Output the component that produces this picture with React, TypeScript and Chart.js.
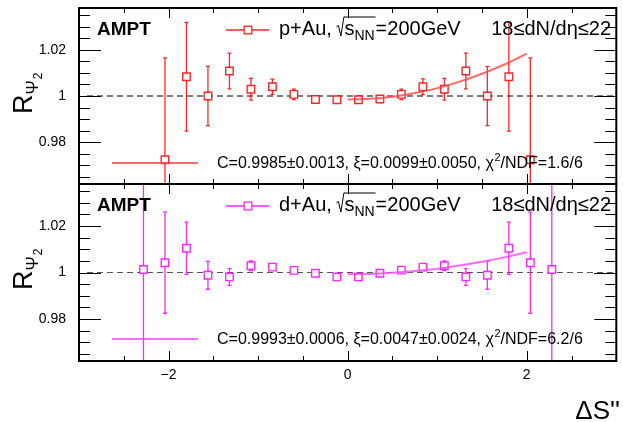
import React, { useEffect, useRef } from 'react';
import { Chart, registerables } from 'chart.js';

Chart.register(...registerables);

// ---------- data ----------
const pAuX = [-2.04, -1.8, -1.56, -1.32, -1.08, -0.84, -0.6, -0.36, -0.12, 0.12, 0.36, 0.6, 0.84, 1.08, 1.32, 1.56, 1.8, 2.04];
const pAuValues = [0.9725, 1.0083, 1.0, 1.0108, 1.0029, 1.004, 1.0007, 0.9985, 0.9984, 0.9984, 0.9987, 1.0007, 1.004, 1.0029, 1.0108, 1.0, 1.0083, 0.9725];
const pAuErrors = [0.044, 0.0235, 0.0128, 0.0077, 0.0047, 0.0033, 0.0023, 0.001, 0.0008, 0.0008, 0.001, 0.0023, 0.0034, 0.0047, 0.0077, 0.0128, 0.0235, 0.044];

const dAuX = [-2.28, -2.04, -1.8, -1.56, -1.32, -1.08, -0.84, -0.6, -0.36, -0.12, 0.12, 0.36, 0.6, 0.84, 1.08, 1.32, 1.56, 1.8, 2.04, 2.28];
const dAuValues = [1.0013, 1.0042, 1.0104, 0.9988, 0.9981, 1.0029, 1.0023, 1.0009, 0.9997, 0.9981, 0.9981, 0.9997, 1.001, 1.0023, 1.0029, 0.9981, 0.9988, 1.0104, 1.0042, 1.0013];
const dAuErrors = [0.08, 0.0217, 0.0112, 0.006, 0.0036, 0.0021, 0.001, 0.001, 0.0008, 0.0008, 0.0008, 0.0008, 0.001, 0.001, 0.0021, 0.0036, 0.006, 0.0112, 0.0217, 0.08];

const fitX = [0, 0.25, 0.5, 0.75, 1.0, 1.25, 1.5, 1.75, 2.0];
const fitPAu = [0.9985, 0.9988, 0.9997, 1.0013, 1.0034, 1.0062, 1.0096, 1.0136, 1.0183];
const fitDAu = [0.9993, 0.9994, 0.9999, 1.0006, 1.0016, 1.003, 1.0046, 1.0065, 1.0087];

const yTickValues = [0.98, 1.0, 1.02];
const yTickLabels = ['0.98', '1', '1.02'];
const xTickValues = [-2, 0, 2];
const xTickLabels = ['\u22122', '0', '2'];

const X_MIN = -3;
const X_MAX = 3;
const Y_MIN = 0.962;
const Y_MAX = 1.038;

const FONT = '"Liberation Sans", Arial, Helvetica, sans-serif';

type PanelCfg = {
  key: string;
  xs: number[];
  vals: number[];
  errs: number[];
  fit: number[];
  color: string;
  fitColor: string;
  dashColor: string;
  system: string;
  fitText1: string;
  fitText2: string;
  showXLabels: boolean;
};

function makePlugin(cfg: PanelCfg) {
  return {
    id: 'rootPanel' + cfg.key,
    beforeDatasetsDraw(chart: any) {
      const { ctx, chartArea: a, scales } = chart;
      const x = scales.x;
      const y = scales.y;
      ctx.save();
      ctx.beginPath();
      ctx.rect(a.left, a.top, a.right - a.left, a.bottom - a.top);
      ctx.clip();
      // dashed reference line at 1
      const y1 = y.getPixelForValue(1);
      ctx.strokeStyle = cfg.dashColor;
      ctx.lineWidth = 1.2;
      ctx.setLineDash([6, 4]);
      ctx.beginPath();
      ctx.moveTo(a.left + 8, y1);
      ctx.lineTo(a.right, y1);
      ctx.stroke();
      ctx.setLineDash([]);
      // error bars
      ctx.strokeStyle = cfg.color;
      ctx.lineWidth = 1.3;
      const half = 3.8;
      for (let i = 0; i < cfg.xs.length; i++) {
        const px = x.getPixelForValue(cfg.xs[i]);
        const pc = y.getPixelForValue(cfg.vals[i]);
        const pt = y.getPixelForValue(cfg.vals[i] + cfg.errs[i]);
        const pb = y.getPixelForValue(cfg.vals[i] - cfg.errs[i]);
        ctx.beginPath();
        if (pc - pt > half) {
          ctx.moveTo(px, pc - half);
          ctx.lineTo(px, pt);
          ctx.moveTo(px - 2, pt);
          ctx.lineTo(px + 2, pt);
        }
        if (pb - pc > half) {
          ctx.moveTo(px, pc + half);
          ctx.lineTo(px, pb);
          ctx.moveTo(px - 2, pb);
          ctx.lineTo(px + 2, pb);
        }
        ctx.stroke();
      }
      ctx.restore();
    },
    afterDraw(chart: any) {
      const { ctx, chartArea: a, scales } = chart;
      const x = scales.x;
      const y = scales.y;
      ctx.save();
      // frame
      ctx.strokeStyle = '#000';
      ctx.lineWidth = 2;
      ctx.strokeRect(a.left, a.top, a.right - a.left, a.bottom - a.top);
      // y ticks (inside, both sides)
      ctx.lineWidth = 1;
      for (let k = -7; k <= 7; k++) {
        const v = 1 + k * 0.005;
        const py = Math.round(y.getPixelForValue(v)) + 0.5;
        const len = k % 4 === 0 ? 22 : 11;
        ctx.beginPath();
        ctx.moveTo(a.left, py);
        ctx.lineTo(a.left + len, py);
        ctx.moveTo(a.right, py);
        ctx.lineTo(a.right - len, py);
        ctx.stroke();
      }
      // x ticks (inside, top and bottom)
      for (let k = -5; k <= 5; k++) {
        const v = k * 0.5;
        const px = Math.round(x.getPixelForValue(v)) + 0.5;
        const len = k % 4 === 0 ? 10 : 5;
        ctx.beginPath();
        ctx.moveTo(px, a.bottom);
        ctx.lineTo(px, a.bottom - len);
        ctx.moveTo(px, a.top);
        ctx.lineTo(px, a.top + len);
        ctx.stroke();
      }
      // y tick labels
      ctx.fillStyle = '#000';
      ctx.font = `14px ${FONT}`;
      ctx.textAlign = 'right';
      ctx.textBaseline = 'middle';
      yTickValues.forEach((v, i) => {
        ctx.fillText(yTickLabels[i], a.left - 13, y.getPixelForValue(v));
      });
      // x tick labels
      if (cfg.showXLabels) {
        ctx.textAlign = 'center';
        ctx.textBaseline = 'alphabetic';
        xTickValues.forEach((v, i) => {
          ctx.fillText(xTickLabels[i], x.getPixelForValue(v), a.bottom + 18);
        });
        ctx.font = `26px ${FONT}`;
        ctx.textAlign = 'right';
        ctx.fillText("\u0394S''", 620, a.bottom + 58);
      }
      // y title R_{Psi_2}
      ctx.save();
      ctx.translate(32, a.top + 106);
      ctx.rotate(-Math.PI / 2);
      ctx.textAlign = 'left';
      ctx.textBaseline = 'alphabetic';
      ctx.font = `27px ${FONT}`;
      ctx.fillText('R', 0, 0);
      let tx = ctx.measureText('R').width;
      ctx.font = `17px ${FONT}`;
      ctx.fillText('\u03A8', tx, 6);
      tx += ctx.measureText('\u03A8').width;
      ctx.font = `12px ${FONT}`;
      ctx.fillText('2', tx + 1, 10);
      ctx.restore();

      // AMPT
      const by = a.top + 27;
      ctx.textAlign = 'left';
      ctx.textBaseline = 'alphabetic';
      ctx.font = `bold 19px ${FONT}`;
      ctx.fillText('AMPT', 97, by);

      // legend marker
      const ly = a.top + 22;
      ctx.strokeStyle = cfg.color;
      ctx.lineWidth = 1.3;
      ctx.beginPath();
      ctx.moveTo(226, ly);
      ctx.lineTo(244, ly);
      ctx.moveTo(252, ly);
      ctx.lineTo(269, ly);
      ctx.stroke();
      ctx.fillStyle = '#fff';
      ctx.fillRect(244.2, ly - 3.8, 7.6, 7.6);
      ctx.strokeRect(244.2, ly - 3.8, 7.6, 7.6);

      // legend text with sqrt(s_NN)
      ctx.fillStyle = '#000';
      ctx.strokeStyle = '#000';
      ctx.font = `20px ${FONT}`;
      let cx = 279;
      const t1 = cfg.system + ', ';
      ctx.fillText(t1, cx, by);
      cx += ctx.measureText(t1).width - 1;
      // sqrt sign
      ctx.lineWidth = 1;
      ctx.beginPath();
      ctx.moveTo(cx, by - 8);
      ctx.lineTo(cx + 2, by - 9.5);
      ctx.lineTo(cx + 4.5, by + 1);
      ctx.lineTo(cx + 7.5, by - 18);
      cx += 8;
      ctx.font = `20px ${FONT}`;
      ctx.fillText('s', cx, by);
      cx += ctx.measureText('s').width;
      ctx.font = `14px ${FONT}`;
      ctx.fillText('NN', cx, by + 5);
      cx += ctx.measureText('NN').width;
      ctx.lineTo(cx + 1, by - 18);
      ctx.stroke();
      ctx.font = `20px ${FONT}`;
      ctx.fillText('=200GeV', cx + 1, by);
      ctx.textAlign = 'right';
      ctx.fillText('18\u2264dN/d\u03B7\u226422', 611, by);

      // fit legend
      const fy = a.top + 155;
      ctx.strokeStyle = cfg.fitColor;
      ctx.lineWidth = 2;
      ctx.beginPath();
      ctx.moveTo(112, fy);
      ctx.lineTo(198, fy);
      ctx.stroke();
      ctx.textAlign = 'left';
      ctx.fillStyle = '#000';
      ctx.font = `16px ${FONT}`;
      let fx = 217;
      const fb = a.top + 160;
      ctx.fillText(cfg.fitText1, fx, fb);
      fx += ctx.measureText(cfg.fitText1).width;
      ctx.font = `11px ${FONT}`;
      ctx.fillText('2', fx + 0.5, fb - 7);
      fx += ctx.measureText('2').width + 0.5;
      ctx.font = `16px ${FONT}`;
      ctx.fillText(cfg.fitText2, fx, fb);
      ctx.restore();
    },
  };
}

function makeConfig(cfg: PanelCfg, padding: any): any {
  return {
    type: 'scatter',
    data: {
      datasets: [
        {
          type: 'line',
          data: fitX.map((xv, i) => ({ x: xv, y: cfg.fit[i] })),
          borderColor: cfg.fitColor,
          borderWidth: 2,
          pointRadius: 0,
          showLine: true,
          fill: false,
          cubicInterpolationMode: 'monotone',
          order: 0,
        },
        {
          data: cfg.xs.map((xv, i) => ({ x: xv, y: cfg.vals[i] })),
          pointStyle: 'rect',
          pointRadius: 5.3,
          pointBorderWidth: 1.4,
          borderColor: cfg.color,
          pointBorderColor: cfg.color,
          pointBackgroundColor: '#ffffff',
          backgroundColor: '#ffffff',
          showLine: false,
          order: 1,
        },
      ],
    },
    options: {
      responsive: false,
      animation: false,
      events: [],
      layout: { padding },
      plugins: { legend: { display: false }, tooltip: { enabled: false } },
      scales: {
        x: { type: 'linear', min: X_MIN, max: X_MAX, display: false },
        y: { type: 'linear', min: Y_MIN, max: Y_MAX, display: false },
      },
    },
    plugins: [makePlugin(cfg)],
  };
}

const topPanel: PanelCfg = {
  key: 'top',
  xs: pAuX,
  vals: pAuValues,
  errs: pAuErrors,
  fit: fitPAu,
  color: 'rgba(255,0,0,0.85)',
  fitColor: 'rgba(255,70,70,0.8)',
  dashColor: '#000',
  system: 'p+Au',
  fitText1: 'C=0.9985\u00B10.0013, \u03BE=0.0099\u00B10.0050, \u03C7',
  fitText2: '/NDF=1.6/6',
  showXLabels: false,
};

const bottomPanel: PanelCfg = {
  key: 'bottom',
  xs: dAuX,
  vals: dAuValues,
  errs: dAuErrors,
  fit: fitDAu,
  color: 'rgba(255,0,255,0.85)',
  fitColor: 'rgba(255,70,255,0.8)',
  dashColor: '#555',
  system: 'd+Au',
  fitText1: 'C=0.9993\u00B10.0006, \u03BE=0.0047\u00B10.0024, \u03C7',
  fitText2: '/NDF=6.2/6',
  showXLabels: true,
};

export default function App() {
  const topRef = useRef<HTMLCanvasElement>(null);
  const botRef = useRef<HTMLCanvasElement>(null);
  useEffect(() => {
    const c1 = new Chart(topRef.current as HTMLCanvasElement, makeConfig(topPanel, { left: 79, right: 4, top: 8, bottom: 8 }));
    const c2 = new Chart(botRef.current as HTMLCanvasElement, makeConfig(bottomPanel, { left: 79, right: 4, top: 8, bottom: 61 }));
    return () => {
      c1.destroy();
      c2.destroy();
    };
  }, []);
  return (
    <div style={{ position: 'fixed', left: 0, top: 0, width: 623, height: 422, background: '#fff' }}>
      <canvas ref={topRef} width={623} height={192} style={{ position: 'absolute', left: 0, top: 0, width: 623, height: 192 }} />
      <canvas ref={botRef} width={623} height={246} style={{ position: 'absolute', left: 0, top: 176, width: 623, height: 246 }} />
    </div>
  );
}
